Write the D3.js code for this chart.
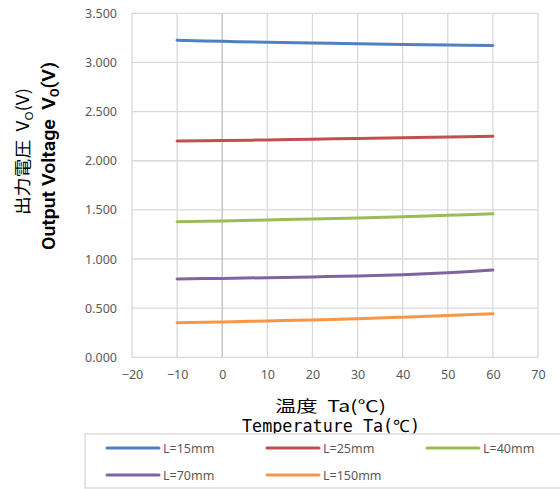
<!DOCTYPE html>
<html><head><meta charset="utf-8">
<script src="https://cdn.jsdelivr.net/npm/d3@7"></script>
<style>body{margin:0;background:#fff}svg{display:block}</style>
</head><body>
<script>
const temps = [-10, 0, 10, 20, 30, 40, 50, 60];
const seriesNames = ["L=15mm", "L=25mm", "L=40mm", "L=70mm", "L=150mm"];
const seriesColors = ["#4f81bd", "#c0504d", "#9bbb59", "#8064a2", "#f79646"];
const vL15  = [3.225, 3.215, 3.205, 3.197, 3.190, 3.183, 3.177, 3.172];
const vL25  = [2.200, 2.205, 2.212, 2.219, 2.226, 2.233, 2.241, 2.250];
const vL40  = [1.380, 1.388, 1.398, 1.408, 1.418, 1.430, 1.445, 1.460];
const vL70  = [0.797, 0.803, 0.810, 0.818, 0.828, 0.840, 0.860, 0.888];
const vL150 = [0.352, 0.360, 0.370, 0.380, 0.392, 0.408, 0.425, 0.444];
const seriesValues = [vL15, vL25, vL40, vL70, vL150];
const xTicks = [-20, -10, 0, 10, 20, 30, 40, 50, 60, 70];
const yTicks = [0, 0.5, 1.0, 1.5, 2.0, 2.5, 3.0, 3.5];

const W = 560, H = 489;
const svg = d3.select("body").append("svg").attr("width", W).attr("height", H);
const x = d3.scaleLinear().domain([-20, 70]).range([132, 538]);
const y = d3.scaleLinear().domain([0, 3.5]).range([357.3, 13.3]);

svg.append("g").selectAll("line").data(yTicks).join("line")
  .attr("x1", x(-20)).attr("x2", x(70))
  .attr("y1", d => y(d)).attr("y2", d => y(d))
  .attr("stroke", "#d9d9d9").attr("stroke-width", 1.3);
svg.append("g").selectAll("line").data(xTicks).join("line")
  .attr("x1", d => x(d)).attr("x2", d => x(d))
  .attr("y1", y(0)).attr("y2", y(3.5))
  .attr("stroke", d => d === 0 ? "#bfbfbf" : "#d9d9d9").attr("stroke-width", 1.3);

const yAxis = svg.append("g").attr("transform", `translate(${x(-20)},0)`)
  .call(d3.axisLeft(y).tickValues(yTicks).tickSize(0).tickPadding(15).tickFormat(d3.format(".3f")));
const xAxis = svg.append("g").attr("transform", `translate(0,${y(0)})`)
  .call(d3.axisBottom(x).tickValues(xTicks).tickSize(0).tickPadding(13).tickFormat(d => d < 0 ? "\u2212" + Math.abs(d) : d));
[yAxis, xAxis].forEach(a => {
  a.select(".domain").remove();
  a.selectAll("text").attr("font-family", "Noto Sans, sans-serif").attr("font-size", 12.5).attr("fill", "#595959");
});

const line = d3.line().x((d, i) => x(temps[i])).y(d => y(d)).curve(d3.curveCatmullRom);
svg.append("g").selectAll("path").data(seriesValues).join("path")
  .attr("d", d => line(d)).attr("fill", "none")
  .attr("stroke", (d, i) => seriesColors[i]).attr("stroke-width", 3).attr("stroke-linecap", "round");

// x axis title
svg.append("text").attr("x", 330.5).attr("y", 412).attr("text-anchor", "middle")
  .attr("font-family", "Noto Sans CJK JP, sans-serif").attr("font-size", 16).attr("fill", "#000")
  .attr("textLength", 111).attr("lengthAdjust", "spacingAndGlyphs")
  .text("温度\u00a0\u00a0Ta(℃)");
svg.append("text").attr("x", 331).attr("y", 432).attr("text-anchor", "middle")
  .attr("font-family", "DejaVu Sans Mono, monospace").attr("font-size", 17).attr("font-weight", 500).attr("fill", "#000")
  .attr("textLength", 178).attr("lengthAdjust", "spacingAndGlyphs")
  .text("Temperature Ta(℃)");

// y axis titles
const t1 = svg.append("text").attr("transform", "translate(28.5,151.5) rotate(-90)").attr("text-anchor", "middle")
  .attr("font-family", "Noto Sans CJK JP, sans-serif").attr("font-size", 17).attr("fill", "#000")
  .attr("textLength", 127).attr("lengthAdjust", "spacingAndGlyphs");
t1.append("tspan").text("出力電圧\u00a0\u00a0V");
t1.append("tspan").attr("font-size", 11).attr("dy", 4).text("O");
t1.append("tspan").attr("dy", -4).text("(V)");
const t2 = svg.append("text").attr("transform", "translate(55,156) rotate(-90)").attr("text-anchor", "middle")
  .attr("font-family", "Roboto, sans-serif").attr("font-weight", 600)
  .attr("font-size", 19).attr("fill", "#000")
  .attr("textLength", 188).attr("lengthAdjust", "spacingAndGlyphs");
t2.append("tspan").text("Output\u00a0Voltage\u00a0\u00a0V");
t2.append("tspan").attr("font-size", 12).attr("dy", 4).text("O");
t2.append("tspan").attr("dy", -4).text("(V)");

// legend
svg.append("rect").attr("x", 85).attr("y", 434).attr("width", 480).attr("height", 54)
  .attr("fill", "#fff").attr("stroke", "#d9d9d9").attr("stroke-width", 1.3);
const lg = svg.append("g").selectAll("g").data(seriesNames).join("g")
  .attr("transform", (d, i) => `translate(${107 + (i % 3) * 160},${448 + Math.floor(i / 3) * 27})`);
lg.append("line").attr("x1", 0).attr("x2", 52).attr("y1", 0).attr("y2", 0)
  .attr("stroke", (d, i) => seriesColors[i]).attr("stroke-width", 3).attr("stroke-linecap", "round");
lg.append("text").attr("x", 56).attr("y", 4.5).attr("font-family", "Noto Sans, sans-serif")
  .attr("font-size", 12.5).attr("fill", "#595959").text(d => d);
</script>
</body></html>
